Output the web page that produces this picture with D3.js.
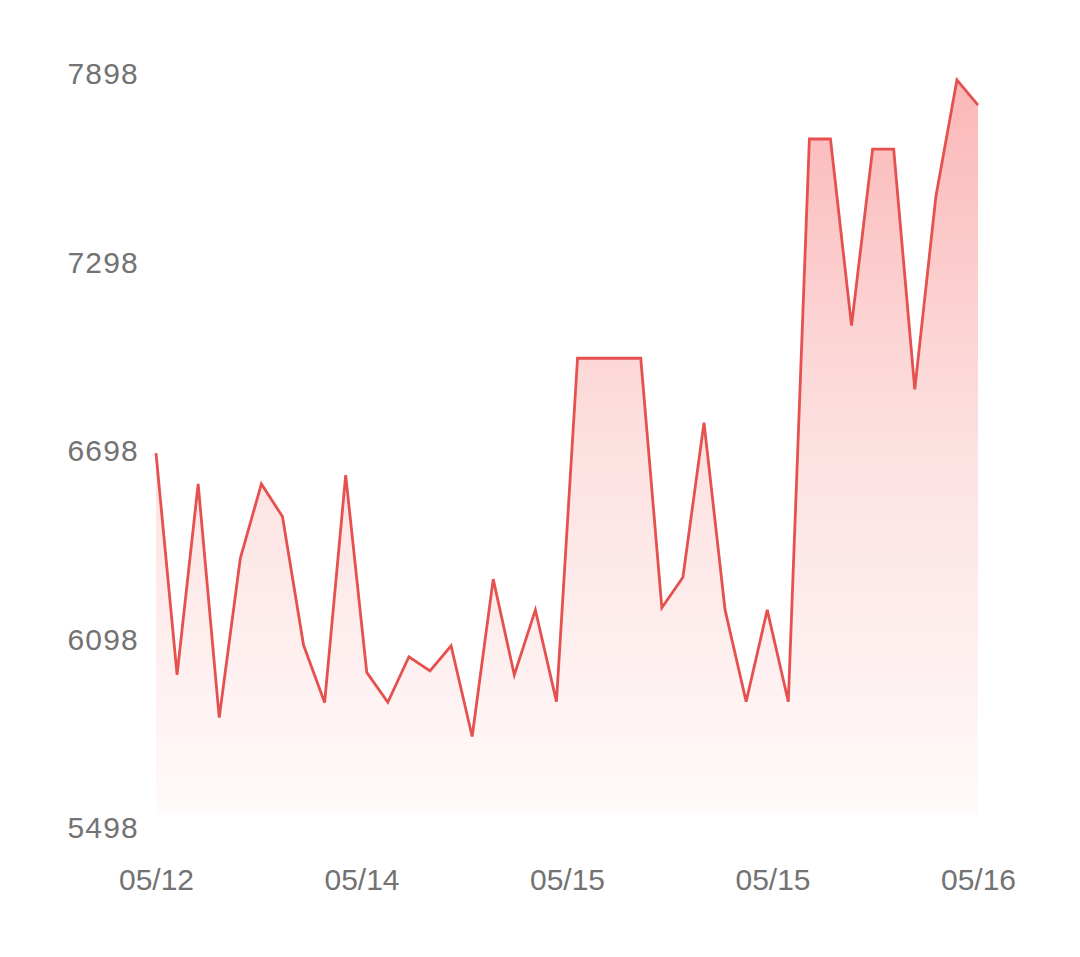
<!DOCTYPE html>
<html>
<head>
<meta charset="utf-8">
<script src="https://cdnjs.cloudflare.com/ajax/libs/d3/7.8.5/d3.min.js"></script>
<style>
  html, body { margin: 0; padding: 0; background: #ffffff; }
  svg { display: block; }
  text { font-family: "Liberation Sans", Arial, sans-serif; }
</style>
</head>
<body>
<svg id="chart" width="1080" height="957"></svg>
<script>
// ---- data ----
const values = [6688, 5982, 6590, 5846, 6353, 6590, 6486, 6077, 5894, 6618,
                5990, 5895, 6040, 5995, 6075, 5786, 6287, 5982, 6189, 5897,
                6990, 6990, 6990, 6990, 6196, 6293, 6785, 6189, 5897, 6189,
                5897, 7688, 7688, 7094, 7656, 7656, 6891, 7504, 7876, 7796];
const xTickLabels = ["05/12", "05/14", "05/15", "05/15", "05/16"];
const yTicks = [5498, 6098, 6698, 7298, 7898];

// ---- layout ----
const left = 156, right = 978;
const yTop = 73, yBottom = 827;   // label positions of the y domain
const plotBottom = 815;           // baseline of the filled area

const svg = d3.select("#chart");

const x = d3.scaleLinear().domain([0, values.length - 1]).range([left, right]);
const y = d3.scaleLinear().domain([d3.min(yTicks), d3.max(yTicks)]).range([yBottom, yTop]);

// gradient
const defs = svg.append("defs");
const grad = defs.append("linearGradient")
  .attr("id", "fillGrad")
  .attr("gradientUnits", "userSpaceOnUse")
  .attr("x1", 0).attr("x2", 0)
  .attr("y1", y(d3.max(values))).attr("y2", plotBottom);
grad.append("stop").attr("offset", "0%").attr("stop-color", "#fbb7b7");
grad.append("stop").attr("offset", "50%").attr("stop-color", "#fde1e1");
grad.append("stop").attr("offset", "100%").attr("stop-color", "#fffafa");

const area = d3.area()
  .x((d, i) => x(i))
  .y0(plotBottom)
  .y1(d => y(d));

const line = d3.line()
  .x((d, i) => x(i))
  .y(d => y(d));

svg.append("path")
  .datum(values)
  .attr("d", area)
  .attr("fill", "url(#fillGrad)");

svg.append("path")
  .datum(values)
  .attr("d", line)
  .attr("fill", "none")
  .attr("stroke", "#e5514f")
  .attr("stroke-width", 2.8)
  .attr("stroke-linejoin", "miter");

// y axis labels
const yAxis = d3.axisLeft(y).tickValues(yTicks).tickSize(0).tickPadding(0).tickFormat(d3.format("d"));
const gy = svg.append("g").attr("transform", "translate(139,0)").call(yAxis);
gy.select(".domain").remove();
gy.selectAll("text")
  .attr("font-size", 30)
  .attr("letter-spacing", "1.2px")
  .attr("fill", "#737373")
  .attr("font-family", "'Liberation Sans', Arial, sans-serif")
  .attr("dy", "0.36em");

// x axis labels
const n = xTickLabels.length;
const xTickVals = d3.range(n).map(i => (values.length - 1) * i / (n - 1));
const xAxis = d3.axisBottom(x).tickValues(xTickVals).tickSize(0).tickPadding(0)
  .tickFormat((d, i) => xTickLabels[i]);
const gx = svg.append("g").attr("transform", "translate(0,868)").call(xAxis);
gx.select(".domain").remove();
gx.selectAll("text")
  .attr("font-size", 30)
  .attr("fill", "#737373")
  .attr("font-family", "'Liberation Sans', Arial, sans-serif")
  .attr("dy", "0.72em");
</script>
</body>
</html>
